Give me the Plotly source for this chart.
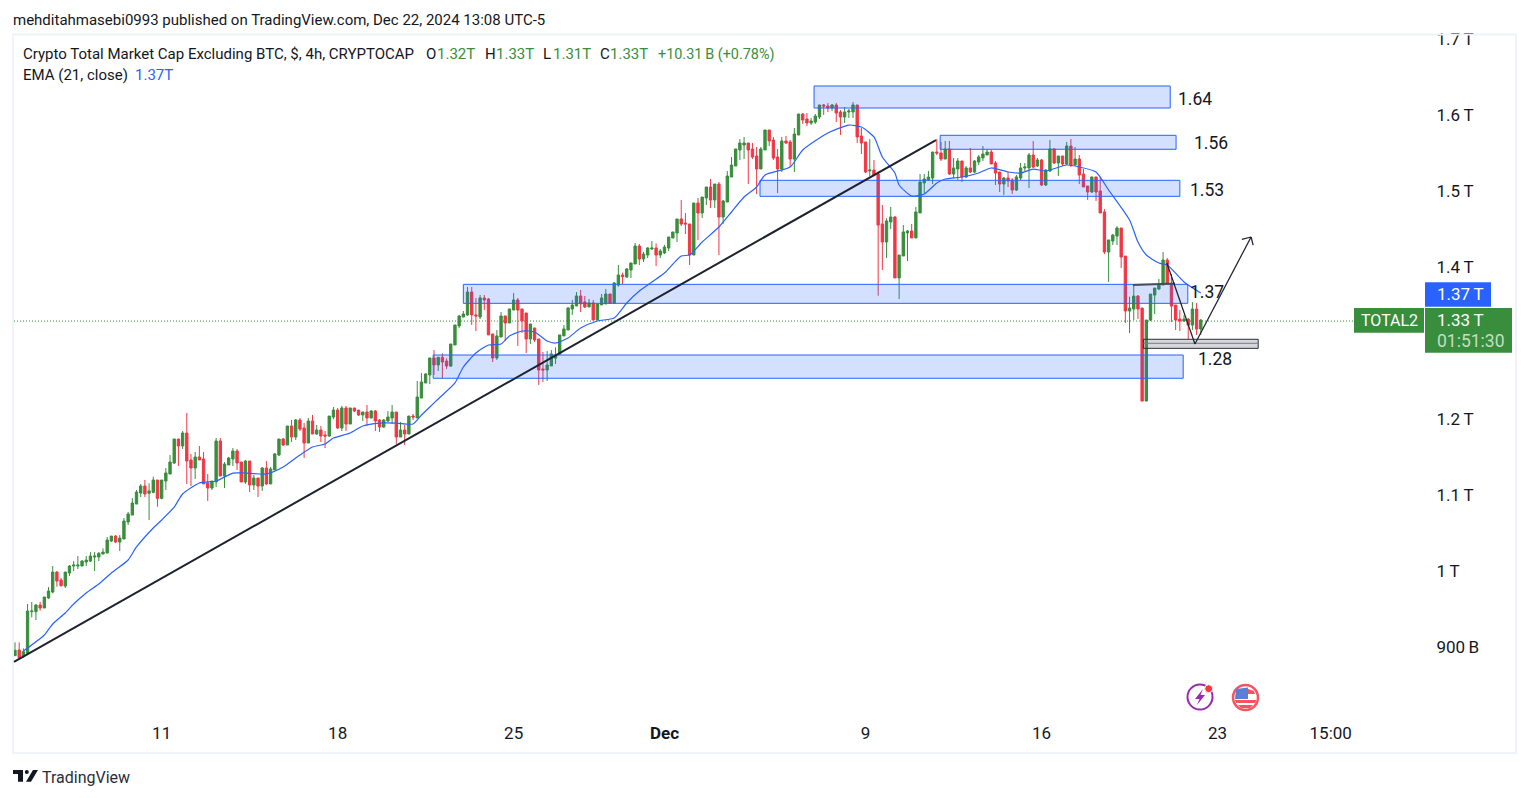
import pandas as pd
import plotly.graph_objects as go

W, H = 1529, 798
FONT = "Roboto"
INK = "#131722"
GREEN = "#388E3C"
RED = "#F23645"
BLUE = "#2962FF"
TV_GREEN_TEXT = "#388E3C"

# ---- 4h bars, values in trillions of USD ----
first_bar = "2024-11-05 07:00"

opens = [
0.8886,0.8960,0.8872,0.8916,0.9465,0.9465,0.9552,0.9513,0.9645,0.9723,
0.9986,0.9881,0.9802,0.9973,1.0065,1.0065,1.0065,1.0118,1.0131,1.0184,
1.0184,1.0223,1.0236,1.0394,1.0460,1.0381,1.0421,1.0644,1.0736,1.0881,
1.1026,1.1118,1.1022,1.1035,1.1197,1.0956,1.1184,1.1276,1.1421,1.1737,
1.1645,1.1816,1.1461,1.1355,1.1500,1.1474,1.1158,1.1092,1.1171,1.1711,
1.1250,1.1395,1.1474,1.1579,1.1434,1.1171,1.1447,1.1132,1.1224,1.1118,
1.1355,1.1145,1.1329,1.1526,1.1737,1.1658,1.1908,1.1763,1.1987,1.1882,
1.1684,1.1974,1.1803,1.1855,1.1789,1.1776,1.2026,1.2118,1.1882,1.2145,
1.1934,1.2145,1.2118,1.2053,1.2092,1.2013,1.2105,1.1987,1.1895,1.1974,
1.2013,1.2092,1.1763,1.1855,1.1803,1.2039,1.2013,1.2276,1.2474,1.2579,
1.2803,1.2711,1.2812,1.2763,1.2697,1.2974,1.3224,1.3342,1.3369,1.3671,
1.3369,1.3343,1.3593,1.3579,1.3119,1.2803,1.3079,1.3356,1.3264,1.3434,
1.3566,1.3448,1.3395,1.3053,1.3198,1.3053,1.2658,1.2645,1.2698,1.2800,
1.2856,1.3093,1.3171,1.3448,1.3487,1.3619,1.3540,1.3474,1.3527,1.3303,
1.3501,1.3514,1.3645,1.3522,1.3763,1.3895,1.3868,1.3961,1.4040,1.4276,
1.4105,1.4158,1.4237,1.4250,1.4158,1.4184,1.4250,1.4382,1.4447,1.4632,
1.4579,1.4566,1.4158,1.4842,1.4711,1.4908,1.5053,1.4882,1.5092,1.4658,
1.4855,1.5184,1.5329,1.5540,1.5605,1.5632,1.5553,1.5461,1.5290,1.5540,
1.5803,1.5671,1.5447,1.5290,1.5658,1.5645,1.5421,1.5737,1.6013,1.5947,
1.5895,1.5908,1.5974,1.6132,1.6118,1.6092,1.6132,1.6040,1.5974,1.6040,
1.6040,1.6132,1.5724,1.5645,1.5264,1.5276,1.5224,1.4566,1.4329,1.4592,
1.4658,1.3856,1.4145,1.4448,1.4474,1.4382,1.4711,1.5106,1.5145,1.5171,
1.5513,1.5500,1.5421,1.5553,1.5224,1.5290,1.5395,1.5184,1.5303,1.5250,
1.5382,1.5435,1.5474,1.5513,1.5369,1.5250,1.5092,1.5171,1.5145,1.5013,
1.5171,1.5303,1.5303,1.5474,1.5329,1.5408,1.5079,1.5263,1.5553,1.5369,
1.5461,1.5356,1.5592,1.5342,1.5421,1.5224,1.5066,1.4987,1.5185,1.5000,
1.4724,1.4198,1.4342,1.4407,1.4513,1.4144,1.3421,1.3447,1.3618,1.3460,
1.2236,1.3302,1.3631,1.3710,1.3763,1.4092,1.3776,1.3500,1.3315,1.3289,
1.3315,1.3236,1.3447,1.3184]

highs = [
0.9061,0.9061,0.8982,0.9566,0.9592,0.9566,0.9592,0.9658,0.9789,1.0065,
0.9999,0.9907,0.9986,1.0079,1.0131,1.0197,1.0144,1.0197,1.0249,1.0249,
1.0249,1.0298,1.0447,1.0460,1.0473,1.0473,1.0697,1.0776,1.0960,1.1065,
1.1144,1.1197,1.1154,1.1241,1.1197,1.1197,1.1355,1.1526,1.1737,1.1737,
1.1842,1.2079,1.1540,1.1566,1.1645,1.1566,1.1276,1.1184,1.1750,1.1750,
1.1434,1.1500,1.1618,1.1605,1.1434,1.1461,1.1447,1.1263,1.1224,1.1368,
1.1447,1.1368,1.1553,1.1737,1.1750,1.1908,1.1987,1.2000,1.2013,1.1947,
1.2013,1.2053,1.1921,1.1908,1.1842,1.2039,1.2158,1.2145,1.2171,1.2171,
1.2145,1.2145,1.2118,1.2092,1.2184,1.2118,1.2118,1.2000,1.2000,1.2105,
1.2184,1.2092,1.1961,1.1921,1.2039,1.2066,1.2500,1.2605,1.2605,1.2803,
1.2908,1.2812,1.2864,1.2799,1.2987,1.3237,1.3369,1.3421,1.3737,1.3737,
1.3592,1.3632,1.3632,1.3592,1.3119,1.3171,1.3408,1.3356,1.3448,1.3658,
1.3592,1.3448,1.3395,1.3250,1.3198,1.3053,1.2882,1.2895,1.2908,1.2943,
1.3106,1.3237,1.3474,1.3566,1.3671,1.3698,1.3619,1.3579,1.3566,1.3522,
1.3645,1.3711,1.3645,1.3803,1.4026,1.3925,1.3987,1.4053,1.4316,1.4303,
1.4197,1.4263,1.4342,1.4311,1.4237,1.4290,1.4395,1.4461,1.4632,1.4882,
1.4711,1.4566,1.4842,1.4908,1.4921,1.5053,1.5158,1.5092,1.5118,1.4882,
1.5263,1.5447,1.5553,1.5684,1.5711,1.5632,1.5632,1.5579,1.5579,1.5803,
1.5803,1.5711,1.5553,1.5711,1.5724,1.5671,1.5829,1.6013,1.6026,1.6026,
1.5961,1.6013,1.6132,1.6145,1.6158,1.6145,1.6158,1.6066,1.6105,1.6079,
1.6171,1.6132,1.5829,1.5645,1.5684,1.5408,1.5255,1.4816,1.4641,1.4790,
1.4671,1.4158,1.4553,1.4487,1.4566,1.4790,1.5224,1.5224,1.5263,1.5513,
1.5684,1.5645,1.5658,1.5658,1.5434,1.5434,1.5395,1.5329,1.5566,1.5408,
1.5474,1.5592,1.5553,1.5540,1.5395,1.5250,1.5184,1.5250,1.5171,1.5211,
1.5369,1.5369,1.5500,1.5658,1.5434,1.5421,1.5290,1.5671,1.5566,1.5461,
1.5461,1.5645,1.5684,1.5579,1.5474,1.5290,1.5066,1.5185,1.5185,1.5185,
1.4763,1.4356,1.4434,1.4539,1.4513,1.4144,1.3609,1.3763,1.3631,1.3460,
1.3302,1.3644,1.3723,1.3842,1.4197,1.4118,1.3908,1.3500,1.3434,1.3368,
1.3329,1.3539,1.3526,1.3315]

lows = [
0.8886,0.8829,0.8859,0.8894,0.9390,0.9355,0.9478,0.9513,0.9631,0.9706,
0.9794,0.9794,0.9776,0.9934,0.9999,1.0026,1.0065,1.0065,1.0118,0.9999,
1.0131,1.0223,1.0236,1.0381,1.0368,1.0263,1.0421,1.0605,1.0736,1.0881,
1.0973,1.0973,1.0671,1.1022,1.0846,1.0943,1.1066,1.1276,1.1408,1.1382,
1.1605,1.1145,1.1118,1.1211,1.1461,1.1145,1.0921,1.1066,1.1105,1.1250,
1.1092,1.1395,1.1382,1.1329,1.1171,1.1145,1.1040,1.1066,1.0974,1.1053,
1.1132,1.1145,1.1329,1.1513,1.1645,1.1658,1.1697,1.1724,1.1842,1.1487,
1.1684,1.1803,1.1790,1.1697,1.1618,1.1763,1.2000,1.1868,1.1842,1.1842,
1.1934,1.2092,1.2039,1.1974,1.1908,1.2013,1.1842,1.1829,1.1882,1.1961,
1.1934,1.1671,1.1763,1.1658,1.1803,1.1987,1.2013,1.2276,1.2474,1.2461,
1.2579,1.2632,1.2535,1.2658,1.2685,1.2974,1.3198,1.3342,1.3356,1.3237,
1.3158,1.3316,1.3435,1.3106,1.2750,1.2777,1.3079,1.3027,1.3264,1.3434,
1.2961,1.3132,1.2869,1.2987,1.3014,1.2448,1.2487,1.2500,1.2698,1.2724,
1.2843,1.3093,1.3171,1.3369,1.3487,1.3408,1.3461,1.3474,1.3303,1.3303,
1.3501,1.3514,1.3522,1.3522,1.3741,1.3776,1.3855,1.3855,1.4040,1.4026,
1.4066,1.4118,1.4224,1.4013,1.4118,1.4171,1.4211,1.4382,1.4329,1.4540,
1.4434,1.4026,1.4158,1.4355,1.4645,1.4816,1.4776,1.4776,1.4158,1.4566,
1.4855,1.5184,1.5329,1.5408,1.5421,1.5092,1.5421,1.4961,1.5290,1.5540,
1.5592,1.5408,1.4974,1.5250,1.5618,1.5316,1.5250,1.5737,1.5882,1.5855,
1.5868,1.5882,1.5947,1.6000,1.6039,1.6053,1.5908,1.5737,1.5895,1.5961,
1.5961,1.5632,1.5487,1.5237,1.5189,1.5211,1.3623,1.3961,1.4119,1.4500,
1.3856,1.3579,1.4145,1.4079,1.4382,1.4382,1.4711,1.4970,1.5145,1.5092,
1.5474,1.5395,1.5421,1.5211,1.5171,1.5145,1.5119,1.5171,1.5237,1.5237,
1.5342,1.5395,1.5474,1.5356,1.5079,1.4987,1.4947,1.5053,1.4961,1.5000,
1.5145,1.5263,1.5040,1.5303,1.5316,1.5066,1.5066,1.5250,1.5356,1.5198,
1.5329,1.5342,1.5316,1.5329,1.5092,1.5053,1.4882,1.4974,1.4869,1.4711,
1.4171,1.3803,1.4289,1.4289,1.3986,1.3263,1.3131,1.3302,1.3315,1.2236,
1.2236,1.3289,1.3381,1.3697,1.3763,1.3776,1.3276,1.3171,1.3157,1.3276,
1.3052,1.3171,1.3105,1.3105]

closes = [
0.8956,0.8859,0.8938,0.9473,0.9473,0.9552,0.9513,0.9658,0.9737,0.9986,
0.9868,0.9807,0.9986,1.0065,1.0079,1.0079,1.0131,1.0144,1.0197,1.0197,
1.0232,1.0249,1.0408,1.0460,1.0381,1.0434,1.0657,1.0750,1.0894,1.1039,
1.1118,1.1013,1.1053,1.1197,1.0956,1.1197,1.1290,1.1434,1.1737,1.1645,
1.1816,1.1447,1.1355,1.1500,1.1461,1.1145,1.1092,1.1184,1.1711,1.1250,
1.1408,1.1487,1.1579,1.1421,1.1171,1.1447,1.1132,1.1224,1.1118,1.1355,
1.1145,1.1342,1.1540,1.1737,1.1658,1.1908,1.1763,1.1987,1.1868,1.1684,
1.1974,1.1803,1.1855,1.1776,1.1776,1.2039,1.2118,1.1882,1.2145,1.1934,
1.2145,1.2105,1.2053,1.2092,1.2013,1.2105,1.1974,1.1895,1.1987,1.2026,
1.2092,1.1763,1.1855,1.1803,1.2039,1.2026,1.2289,1.2487,1.2592,1.2803,
1.2711,1.2812,1.2750,1.2697,1.2987,1.3237,1.3355,1.3382,1.3671,1.3369,
1.3356,1.3593,1.3566,1.3106,1.2803,1.3093,1.3356,1.3264,1.3448,1.3566,
1.3434,1.3290,1.3053,1.3250,1.3040,1.2645,1.2645,1.2711,1.2856,1.2842,
1.3106,1.3185,1.3461,1.3500,1.3619,1.3514,1.3474,1.3527,1.3303,1.3514,
1.3593,1.3645,1.3522,1.3790,1.3895,1.3873,1.3974,1.4053,1.4276,1.4105,
1.4171,1.4250,1.4250,1.4158,1.4211,1.4263,1.4395,1.4461,1.4632,1.4566,
1.4566,1.4158,1.4842,1.4711,1.4921,1.5053,1.4882,1.5092,1.4658,1.4868,
1.5197,1.5342,1.5553,1.5632,1.5632,1.5540,1.5447,1.5290,1.5553,1.5803,
1.5658,1.5434,1.5290,1.5658,1.5632,1.5421,1.5750,1.6013,1.5934,1.5895,
1.5921,1.5987,1.6132,1.6118,1.6092,1.6132,1.6026,1.5974,1.6040,1.6053,
1.6132,1.5711,1.5632,1.5250,1.5276,1.5211,1.4553,1.4329,1.4606,1.4658,
1.3856,1.4158,1.4461,1.4474,1.4382,1.4724,1.5119,1.5158,1.5184,1.5513,
1.5500,1.5421,1.5553,1.5224,1.5303,1.5395,1.5184,1.5303,1.5250,1.5395,
1.5448,1.5487,1.5513,1.5356,1.5237,1.5092,1.5171,1.5132,1.5013,1.5185,
1.5303,1.5316,1.5474,1.5316,1.5408,1.5079,1.5276,1.5553,1.5369,1.5461,
1.5356,1.5592,1.5342,1.5421,1.5211,1.5053,1.4987,1.5185,1.4987,1.4711,
1.4198,1.4356,1.4421,1.4513,1.4131,1.3421,1.3460,1.3618,1.3447,1.2236,
1.3302,1.3644,1.3723,1.3763,1.4092,1.3776,1.3486,1.3302,1.3289,1.3315,
1.3236,1.3447,1.3184,1.3302]

# EMA(21) at these bars
ema_bars = [2,7,9,12,14,17,20,23,27,29,33,35,38,40,44,48,52,55,60,64,68,71,74,76,80,83,87,91,95,97,99,
            101,105,107,110,113,116,118,121,124,127,129,132,135,139,143,146,149,152,155,159,161,164,168,
            171,174,177,179,185,188,194,199,202,205,207,210,211,214,217,220,222,226,230,233,237,240,243,
            246,251,254,258,261,266,268,270,273,275,279,283]
ema_vals = [0.8947,0.9158,0.9303,0.9447,0.9566,0.9711,0.9829,0.9974,1.0145,1.0316,1.0566,1.0671,1.0842,1.1013,
            1.1158,1.1184,1.1289,1.1289,1.1276,1.1368,1.1526,1.1632,1.1671,1.1750,1.1816,1.1908,1.1947,1.1947,
            1.1934,1.2053,1.2158,1.2263,1.2474,1.2684,1.2868,1.2974,1.2987,1.3092,1.3158,1.3145,1.3026,1.3000,
            1.3066,1.3197,1.3289,1.3329,1.3526,1.3684,1.3803,1.3921,1.4145,1.4158,1.4329,1.4526,1.4724,1.4921,
            1.5053,1.5211,1.5316,1.5539,1.5763,1.5868,1.5842,1.5711,1.5447,1.5237,1.5079,1.4934,1.4961,1.5105,
            1.5158,1.5184,1.5237,1.5303,1.5250,1.5237,1.5289,1.5263,1.5342,1.5316,1.5250,1.5013,1.4618,1.4329,
            1.4158,1.4053,1.4026,1.3803,1.3658]

# Chart drawings: bar position (fractional) and price
zone_labels = ["1.64", "1.56", "1.53", "1.37", "1.28"]
zone_bar_start = [190.7, 220.8, 177.8, 107.0, 99.8]
zone_bar_end = [275.7, 277.1, 278.0, 279.9, 278.8]
zone_top = [1.6382, 1.5733, 1.5141, 1.3772, 1.2842]
zone_bottom = [1.6092, 1.5549, 1.4930, 1.3522, 1.2536]
last_close = 1.3289
y_tick_vals = [1.7, 1.6, 1.5, 1.4, 1.2, 1.1, 1.0, 0.9]
y_tick_text = ["1.7\u2009T", "1.6\u2009T", "1.5\u2009T", "1.4\u2009T", "1.2\u2009T", "1.1\u2009T", "1\u2009T", "900\u2009B"]
x_tick_times = ["2024-11-11 03:00", "2024-11-18 03:00", "2024-11-25 03:00", "2024-12-01 03:00",
                "2024-12-09 03:00", "2024-12-16 03:00", "2024-12-23 03:00", "2024-12-27 15:00"]
x_tick_text = ["11", "18", "25", "<b>Dec</b>", "9", "16", "23", "15:00"]

base = pd.Timestamp(first_bar)
step = pd.Timedelta(hours=4)


def T(i):
    return (base + step * i).strftime("%Y-%m-%d %H:%M:%S")


def X(p):
    return p / W


def Y(p):
    return 1 - p / H


bars = [T(i) for i in range(len(opens))]

fig = go.Figure()
fig.add_trace(go.Candlestick(
    x=bars, open=opens, high=highs, low=lows, close=closes,
    increasing=dict(line=dict(color=GREEN, width=1), fillcolor=GREEN),
    decreasing=dict(line=dict(color=RED, width=1), fillcolor=RED),
    whiskerwidth=0, hoverinfo="skip", showlegend=False))
fig.add_trace(go.Scatter(
    x=[T(i) for i in ema_bars], y=ema_vals, mode="lines",
    line=dict(color=BLUE, width=1.2, shape="spline", smoothing=0.6), hoverinfo="skip", showlegend=False))

shapes = []


def seg(b0, v0, b1, v1, color="#1e222d", width=2):
    shapes.append(dict(type="line", xref="x", yref="y", x0=T(b0), y0=v0, x1=T(b1), y1=v1,
                       line=dict(color=color, width=width), layer="above"))


def box(x0, y0, x1, y1, fill, line=None, lw=1):
    shapes.append(dict(type="rect", xref="paper", yref="paper", x0=X(x0), x1=X(x1), y0=Y(y0), y1=Y(y1),
                       fillcolor=fill, line=dict(color=line or fill, width=lw if line else 0), layer="above"))


def path(d, fill=None, line=None, lw=1):
    shapes.append(dict(type="path", xref="paper", yref="paper", path=d, fillcolor=fill or "rgba(0,0,0,0)",
                       line=dict(color=line or "rgba(0,0,0,0)", width=lw if line else 0), layer="above"))


def poly(points):
    return "M " + " L ".join(f"{X(a):.5f},{Y(b):.5f}" for a, b in points) + " Z"


def circle(cx, cy, r, fill=None, line=None, lw=1):
    shapes.append(dict(type="circle", xref="paper", yref="paper", x0=X(cx - r), x1=X(cx + r),
                       y0=Y(cy + r), y1=Y(cy - r), fillcolor=fill or "rgba(0,0,0,0)",
                       line=dict(color=line or "rgba(0,0,0,0)", width=lw if line else 0), layer="above"))


# Frame
box(13, 34.5, 1516, 753, "rgba(0,0,0,0)", "#F0F3FA", 2)

# Last price dotted line
shapes.append(dict(type="line", xref="paper", yref="y", x0=X(14), x1=X(1424), y0=last_close, y1=last_close,
                   line=dict(color=GREEN, width=1, dash="1px,2px"), layer="below"))

# Zones
for s, e, t, b in zip(zone_bar_start, zone_bar_end, zone_top, zone_bottom):
    shapes.append(dict(type="rect", xref="x", yref="y", x0=T(s), x1=T(e), y0=b, y1=t,
                       fillcolor="rgba(41,98,255,0.2)", line=dict(color=BLUE, width=1), layer="above"))

# Grey zone
shapes.append(dict(type="rect", xref="x", yref="y", x0=T(269.3), x1=T(296.7), y0=1.2930, y1=1.3049,
                   fillcolor="rgba(120,123,134,0.3)", line=dict(color="#2a2e39", width=1), layer="above"))
seg(269.3, 1.2996, 296.7, 1.2996, "#787b86", 1)

# Trend line, neckline and projected path
seg(-0.24, 0.8803, 219.8, 1.5671, "#1e222d", 2)
seg(266.8, 1.3763, 276.8, 1.3783, "#4a4d57", 2)
seg(274.9, 1.4053, 281.6, 1.2987, "#1e222d", 1.25)
seg(281.6, 1.2987, 295.0, 1.4395, "#1e222d", 1.25)
seg(292.8, 1.4364, 295.0, 1.4395, "#1e222d", 1.25)
seg(295.5, 1.4289, 295.0, 1.4395, "#1e222d", 1.25)

# Price scale labels
box(1425, 282.3, 1491, 306.7, BLUE)
box(1354, 308, 1424, 332.7, GREEN)
box(1425, 308, 1512, 352.7, GREEN)

# Event icons
circle(1200, 697, 12.5, "#FFFFFF", "#9C27B0", 2)
path(poly([(1203, 689), (1195, 699), (1199.5, 699), (1197, 705), (1205, 695), (1200.5, 695)]), "#9C27B0")
circle(1208.7, 688.7, 4, "#F23645", "#FFFFFF", 1)
circle(1245.5, 697.5, 12.5, "#FFFFFF", "#F7525F", 2.5)
path(poly([(1236, 689), (1248, 687.5), (1248, 699), (1235, 699)]), "#5B7FD6")
path(poly([(1248, 689), (1254, 691), (1255, 694), (1248, 694)]), "#F7525F")
path(poly([(1235, 700), (1256, 700), (1255.5, 703), (1236, 703)]), "#F7525F")
path(poly([(1238, 705), (1253, 705), (1250, 708), (1241, 708)]), "#F7525F")

# TradingView logo
path(poly([(13, 770), (23, 770), (23, 781.7), (18, 781.7), (18, 774), (13, 774)]), INK)
circle(26.8, 771.9, 2, INK)
path(poly([(33, 770), (38, 770), (31, 781.7), (26, 781.7)]), INK)

annotations = []


def txt(x, y, s, size=14, color=INK, anchor="left", family=FONT):
    shift = -1 if anchor == "left" else 0
    annotations.append(dict(x=X(x + shift), y=Y(y), xref="paper", yref="paper", text=s, showarrow=False,
                            xanchor=anchor, yanchor="middle", align=anchor, borderpad=0,
                            font=dict(family=family, size=size, color=color)))


txt(13, 20, "mehditahmasebi0993 published on TradingView.com, Dec 22, 2024 13:08 UTC-5", 15, INK)
txt(23, 54, "Crypto Total Market Cap Excluding BTC, $, 4h, CRYPTOCAP", 15, INK)
for x, s, c in [(426, "O", INK), (437, "1.32T", TV_GREEN_TEXT), (485, "H", INK), (496, "1.33T", TV_GREEN_TEXT),
                (543, "L", INK), (552.5, "1.31T", TV_GREEN_TEXT), (600, "C", INK), (610, "1.33T", TV_GREEN_TEXT)]:
    txt(x, 54, s, 15, c)
txt(658, 54, "+10.31\u2009B (+0.78%)", 14.4, TV_GREEN_TEXT)
txt(23, 75, "EMA (21, close)", 15, INK)
txt(135, 75, "1.37T", 15, BLUE)

for x, y, s in zip([1178, 1194, 1190, 1190, 1198], [99, 143, 190, 292, 359], zone_labels):
    txt(x, y, s, 17.5, INK)

txt(1389, 320.5, "TOTAL2", 16, "#FFFFFF", "center")
txt(1437, 294, "1.37\u2009T", 17, "#FFFFFF")
txt(1437, 320, "1.33\u2009T", 17, "#FFFFFF")
txt(1437, 341, "01:51:30", 17.5, "#C4DDC5")
txt(42, 777, "TradingView", 16, "#2A2E39")

fig.update_layout(
    width=W, height=H, autosize=False,
    margin=dict(l=0, r=0, t=0, b=0, pad=0),
    paper_bgcolor="#FFFFFF", plot_bgcolor="#FFFFFF",
    showlegend=False, hovermode=False, dragmode=False,
    boxgap=0.2,
    font=dict(family=FONT, color=INK),
    shapes=shapes, annotations=annotations,
    xaxis=dict(
        type="date", domain=[X(13), X(1424)], anchor="y",
        range=[T(-0.477), T(336.27)],
        rangeslider=dict(visible=False), showgrid=False, zeroline=False, showline=False,
        tickmode="array", tickvals=x_tick_times, ticktext=x_tick_text,
        ticks="outside", ticklen=8, tickcolor="rgba(0,0,0,0)", tickangle=0,
        tickfont=dict(family=FONT, size=17, color=INK), automargin=False),
    yaxis=dict(
        side="right", domain=[Y(710), Y(34)], anchor="x",
        range=[0.8171, 1.7066], showgrid=False, zeroline=False, showline=False,
        tickmode="array", tickvals=y_tick_vals, ticktext=y_tick_text,
        ticks="outside", ticklen=8, tickcolor="rgba(0,0,0,0)",
        tickfont=dict(family=FONT, size=17, color=INK), automargin=False),
)

for name, arr in [("highs", highs), ("lows", lows), ("closes", closes)]:
    assert len(arr) == len(opens), (name, len(arr), len(opens))

fig.write_html("out.html", config={"displayModeBar": False, "staticPlot": True},
               post_script="document.body.style.margin='0';document.body.style.overflow='hidden';")
